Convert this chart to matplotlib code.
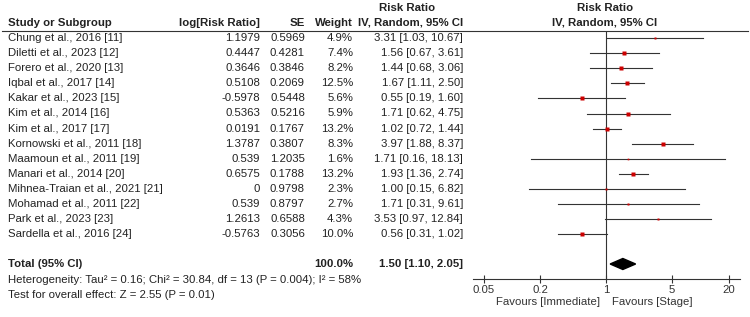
import numpy as np
import matplotlib
matplotlib.use("Agg")
import matplotlib.pyplot as plt
from matplotlib.patches import Polygon

plt.rcParams['font.family'] = ['Liberation Sans', 'DejaVu Sans']

# data
studies = ["Chung et al., 2016 [11]", "Diletti et al., 2023 [12]", "Forero et al., 2020 [13]",
           "Iqbal et al., 2017 [14]", "Kakar et al., 2023 [15]", "Kim et al., 2014 [16]",
           "Kim et al., 2017 [17]", "Kornowski et al., 2011 [18]", "Maamoun et al., 2011 [19]",
           "Manari et al., 2014 [20]", "Mihnea-Traian et al., 2021 [21]", "Mohamad et al., 2011 [22]",
           "Park et al., 2023 [23]", "Sardella et al., 2016 [24]"]
log_rr = ["1.1979", "0.4447", "0.3646", "0.5108", "-0.5978", "0.5363", "0.0191",
          "1.3787", "0.539", "0.6575", "0", "0.539", "1.2613", "-0.5763"]
se = ["0.5969", "0.4281", "0.3846", "0.2069", "0.5448", "0.5216", "0.1767",
      "0.3807", "1.2035", "0.1788", "0.9798", "0.8797", "0.6588", "0.3056"]
weight = [4.9, 7.4, 8.2, 12.5, 5.6, 5.9, 13.2, 8.3, 1.6, 13.2, 2.3, 2.7, 4.3, 10.0]
rr = [3.31, 1.56, 1.44, 1.67, 0.55, 1.71, 1.02, 3.97, 1.71, 1.93, 1.00, 1.71, 3.53, 0.56]
lo = [1.03, 0.67, 0.68, 1.11, 0.19, 0.62, 0.72, 1.88, 0.16, 1.36, 0.15, 0.31, 0.97, 0.31]
hi = [10.67, 3.61, 3.06, 2.50, 1.60, 4.75, 1.44, 8.37, 18.13, 2.74, 6.82, 9.61, 12.84, 1.02]
total_weight = 100.0
total_rr, total_lo, total_hi = 1.50, 1.10, 2.05
ticks = [0.05, 0.2, 1, 5, 20]
tick_labels = ["0.05", "0.2", "1", "5", "20"]
het_text = "Heterogeneity: Tau\u00b2 = 0.16; Chi\u00b2 = 30.84, df = 13 (P = 0.004); I\u00b2 = 58%"
test_text = "Test for overall effect: Z = 2.55 (P = 0.01)"

W, H = 750, 317
fig = plt.figure(figsize=(W / 100, H / 100), dpi=100)

# text layer in pixel coordinates
tx = fig.add_axes([0, 0, 1, 1])
tx.set_xlim(0, W)
tx.set_ylim(H, 0)
tx.axis('off')

fs = 8.2
col = '#222222'
row_y = [38 + 15.1 * i for i in range(len(studies))]
y_total = 264
x_logrr, x_se, x_w, x_ci = 260, 305, 353, 463

tx.text(407, 8, "Risk Ratio", ha='center', va='center', fontsize=fs, fontweight='bold', color=col)
tx.text(605, 8, "Risk Ratio", ha='center', va='center', fontsize=fs, fontweight='bold', color=col)
hy = 22.5
tx.text(8, hy, "Study or Subgroup", ha='left', va='center', fontsize=fs, fontweight='bold', color=col)
tx.text(x_logrr, hy, "log[Risk Ratio]", ha='right', va='center', fontsize=fs, fontweight='bold', color=col)
tx.text(x_se, hy, "SE", ha='right', va='center', fontsize=fs, fontweight='bold', color=col)
tx.text(x_w, hy, "Weight", ha='right', va='center', fontsize=fs, fontweight='bold', color=col)
tx.text(x_ci, hy, "IV, Random, 95% CI", ha='right', va='center', fontsize=fs, fontweight='bold', color=col)
tx.text(605, hy, "IV, Random, 95% CI", ha='center', va='center', fontsize=fs, fontweight='bold', color=col)
tx.plot([2, 748], [30.5, 30.5], color='#333333', lw=0.8)

for i, y in enumerate(row_y):
    tx.text(8, y, studies[i], ha='left', va='center', fontsize=fs, color=col)
    tx.text(x_logrr, y, log_rr[i], ha='right', va='center', fontsize=fs, color=col)
    tx.text(x_se, y, se[i], ha='right', va='center', fontsize=fs, color=col)
    tx.text(x_w, y, "%.1f%%" % weight[i], ha='right', va='center', fontsize=fs, color=col)
    tx.text(x_ci, y, "%.2f [%.2f, %.2f]" % (rr[i], lo[i], hi[i]), ha='right', va='center', fontsize=fs, color=col)

tx.text(8, y_total, "Total (95% CI)", ha='left', va='center', fontsize=fs, fontweight='bold', color=col)
tx.text(x_w, y_total, "%.1f%%" % total_weight, ha='right', va='center', fontsize=fs, fontweight='bold', color=col)
tx.text(x_ci, y_total, "%.2f [%.2f, %.2f]" % (total_rr, total_lo, total_hi), ha='right', va='center',
        fontsize=fs, fontweight='bold', color=col)
tx.text(8, 280, het_text, ha='left', va='center', fontsize=fs, color=col)
tx.text(8, 295, test_text, ha='left', va='center', fontsize=fs, color=col)
tx.text(600, 302, "Favours [Immediate]", ha='right', va='center', fontsize=fs, color='#333333')
tx.text(612, 302, "Favours [Stage]", ha='left', va='center', fontsize=fs, color='#333333')

# forest plot axes (x: log scale, y: pixel rows)
x0, x1, ytop, ybot = 472.5, 740, 30.5, 279
ax = fig.add_axes([x0 / W, 1 - ybot / H, (x1 - x0) / W, (ybot - ytop) / H])
ax.set_xscale('log')
ax.set_xlim(0.0382, 26.2)
ax.set_ylim(ybot, ytop)
ax.patch.set_alpha(0)
for s in ['top', 'right', 'left']:
    ax.spines[s].set_visible(False)
ax.spines['bottom'].set_color('#333333')
ax.spines['bottom'].set_linewidth(0.8)
ax.set_yticks([])
ax.set_xticks(ticks)
ax.set_xticklabels(tick_labels)
ax.minorticks_off()
ax.tick_params(axis='x', direction='inout', length=6, width=0.8, color='#333333',
               labelsize=fs, labelcolor='#333333', pad=1)

ax.axvline(1, color='#333333', lw=0.8)
for i, y in enumerate(row_y):
    ax.plot([lo[i], hi[i]], [y, y], color='#333333', lw=0.8)
    ax.plot(rr[i], y, marker='s', color='#cc0000', markersize=0.95 * np.sqrt(weight[i]), mec='none')

dh = 5.5
ax.add_patch(Polygon([(total_lo, y_total), (total_rr, y_total - dh), (total_hi, y_total),
                      (total_rr, y_total + dh)], closed=True, color='black'))

fig.savefig("out.png", dpi=100)
